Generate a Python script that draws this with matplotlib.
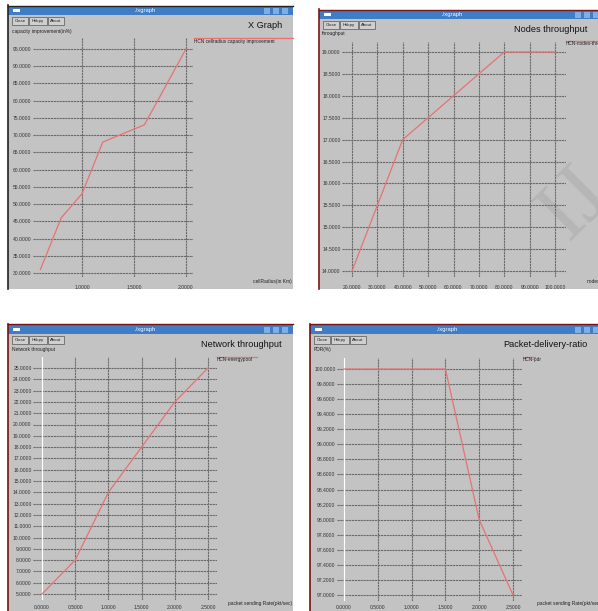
import matplotlib
matplotlib.use("Agg")
import matplotlib.pyplot as plt
from matplotlib.patches import Rectangle
from matplotlib.lines import Line2D

plt.rcParams['font.family'] = ['Liberation Sans', 'DejaVu Sans']

W, H = 598, 611

# chart data
cell_radius = [0.6, 0.8, 1.0, 1.2, 1.6, 2.0]
capacity = [31, 46, 53, 68, 73, 95]
cr_xticks = [1.0, 1.5, 2.0]
cr_yticks = [30, 35, 40, 45, 50, 55, 60, 65, 70, 75, 80, 85, 90, 95]

nodes = [20, 40, 80, 100]
node_tp = [14, 17, 19, 19]
nd_xticks = [20, 30, 40, 50, 60, 70, 80, 90, 100]
nd_yticks = [14.0, 14.5, 15.0, 15.5, 16.0, 16.5, 17.0, 17.5, 18.0, 18.5, 19.0]

rate = [0.0, 0.5, 1.0, 1.5, 2.0, 2.5]
net_tp = [5, 8, 14, 18, 22, 25]
nt_xticks = [0.0, 0.5, 1.0, 1.5, 2.0, 2.5]
nt_yticks = list(range(5, 26))

pdr_rate = [0.0, 1.5, 2.0, 2.5]
pdr = [100, 100, 98, 97]
pd_xticks = [0.0, 0.5, 1.0, 1.5, 2.0, 2.5]
pd_yticks = [97.0, 97.2, 97.4, 97.6, 97.8, 98.0, 98.2, 98.4, 98.6, 98.8,
             99.0, 99.2, 99.4, 99.6, 99.8, 100.0]

fig = plt.figure(figsize=(W / 100, H / 100), dpi=100)
fig.patch.set_facecolor('white')

BODY = '#c3c3c3'
BAR = '#3f7dc6'
RED = '#e87272'


def fx(x):
    return x / W


def fy(y):
    return 1 - y / H


def rect(x0, y0, x1, y1, **kw):
    fig.patches.append(Rectangle((fx(x0), fy(y1)), fx(x1) - fx(x0), fy(y0) - fy(y1),
                                 transform=fig.transFigure, **kw))


def hline(x0, x1, y, **kw):
    fig.lines.append(Line2D([fx(x0), fx(x1)], [fy(y), fy(y)], transform=fig.transFigure, **kw))


def vline(x, y0, y1, **kw):
    fig.lines.append(Line2D([fx(x), fx(x)], [fy(y0), fy(y1)], transform=fig.transFigure, **kw))


def text(x, y, s, **kw):
    kw.setdefault('va', 'center')
    kw.setdefault('fontsize', 3.7)
    kw.setdefault('color', '#222222')
    fig.text(fx(x), fy(y), s, **kw)


def window(x0, y0, x1, y1, bar_cx, title, title_x, border=None):
    rect(x0, y0, x1, y1, facecolor=BODY, edgecolor='none', zorder=0)
    rect(x0, y0, x1, y0 + 9, facecolor=BAR, edgecolor='none', zorder=1)
    text(bar_cx, y0 + 4.5, './xgraph', color='white', fontsize=4.2, ha='center')
    rect(x0 + 5, y0 + 3, x0 + 12, y0 + 6, facecolor='white', edgecolor='none', zorder=2)
    for k in range(3):
        bx = x1 - 8 - 9 * (2 - k)
        rect(bx - 3, y0 + 2, bx + 3, y0 + 8, facecolor='#7eaee6', edgecolor='none', zorder=2)
    if border:
        vline(x0, y0 - 1, y1, color=border, lw=1.2, zorder=3)
        hline(x0, x1, y0 - 0.5, color=border, lw=1.0, zorder=3)
    # Close / Hdcpy / About buttons
    bx = x0 + 4
    for name, bw in (('Close', 16), ('Hdcpy', 18), ('About', 16)):
        rect(bx, y0 + 11, bx + bw, y0 + 19, facecolor='#cfcfcf', edgecolor='#555555',
             lw=0.5, zorder=2)
        text(bx + bw / 2, y0 + 15, name, ha='center', fontsize=3.2)
        bx += bw + 1
    text(title_x, y0 + 19, title, ha='right', fontsize=6.6, color='#111111')


def lim(p_a, p_b, ref1, ref2):
    # map pixel edges to data values from two reference (pixel, value) pairs
    (q1, v1), (q2, v2) = ref1, ref2
    s = (v2 - v1) / (q2 - q1)
    return v1 + (p_a - q1) * s, v1 + (p_b - q1) * s


def panel(box, xref, yref, xs, ys, xticks, yticks, xpad=6, zero=False):
    x0, y0, x1, y1 = box
    ax = fig.add_axes([fx(x0), fy(y1), fx(x1) - fx(x0), fy(y0) - fy(y1)])
    ax.set_zorder(5)
    ax.set_facecolor('none')
    ax.set_xlim(*lim(x0, x1, *xref))
    ax.set_ylim(*lim(y1, y0, *yref))
    ax.set_xticks(xticks)
    ax.set_yticks(yticks)
    ax.set_xticklabels(['%.4f' % v for v in xticks])
    ax.set_yticklabels(['%.4f' % v for v in yticks])
    ax.tick_params(length=0, labelsize=3.6, labelcolor='#333333')
    ax.tick_params(axis='x', pad=xpad)
    ax.tick_params(axis='y', pad=1)
    for sp in ax.spines.values():
        sp.set_visible(False)
    ax.grid(True, color='#6a6a6a', lw=0.8, ls=(0, (2, 0.6)))
    ax.set_axisbelow(True)
    if zero:
        ax.axvline(0, color='white', lw=0.9, zorder=1.5)
    ax.plot(xs, ys, color=RED, lw=0.9, zorder=3, clip_on=False)
    return ax


# top-left: X Graph
window(8, 6, 293, 289, 145, 'X Graph', 282, border='#222222')
text(12, 31, 'capacity improvement(in%)', fontsize=3.5)
panel((33, 38, 193, 277), ((82, 1.0), (186, 2.0)), ((49, 95), (273, 30)),
      cell_radius, capacity, cr_xticks, cr_yticks)
hline(194, 293, 38, color=RED, lw=0.9)
text(194, 42, 'HCN cellradius capacity improvement', fontsize=3.4)
text(292, 281, 'cellRadius(in Km)', ha='right', fontsize=3.5)

# top-right: Nodes throughput
window(319, 10, 604, 289, 452, 'Nodes throughput', 587, border='#7a1818')
text(322, 33, 'throughput', fontsize=3.5)
panel((342, 42, 566, 277), ((352, 20), (555, 100)), ((52, 19.0), (271, 14.0)),
      nodes, node_tp, nd_xticks, nd_yticks)
hline(566, 598, 41, color=RED, lw=0.9)
text(566, 44, 'HCN-nodes-throughput', fontsize=3.4)
text(587, 281, 'nodes', fontsize=3.5)
text(575, 205, 'IJ', fontsize=62, color='#a9a9a9', alpha=0.5, rotation=45,
     ha='center', family='Liberation Serif')

# bottom-left: Network throughput
window(8, 325, 293, 620, 145, 'Network throughput', 282, border='#7a1010')
text(12, 349, 'Network throughput', fontsize=3.5)
panel((33, 357, 217, 600), ((42, 0.0), (208, 2.5)), ((368, 25), (594, 5)),
      rate, net_tp, nt_xticks, nt_yticks, xpad=3.5, zero=True)
hline(217, 257, 357, color=RED, lw=0.9)
text(217, 360, 'HCN-energypool', fontsize=3.4)
text(292, 604, 'packet sending Rate(pkt/sec)', ha='right', fontsize=3.5)

# bottom-right: Packet-delivery-ratio
window(310, 325, 604, 620, 447, 'Packet-delivery-ratio', 588, border='#7a1010')
text(314, 350, 'PDR(%)', fontsize=3.5)
panel((337, 358, 522, 601), ((344, 0.0), (513, 2.5)), ((369, 100.0), (595, 97.0)),
      pdr_rate, pdr, pd_xticks, pd_yticks, xpad=3, zero=True)
hline(523, 535, 357, color=RED, lw=0.9)
text(523, 360, 'HCN-pdr', fontsize=3.4)
text(537, 604, 'packet sending Rate(pkt/sec)', fontsize=3.5)

fig.savefig('out.png', dpi=100, facecolor='white')
